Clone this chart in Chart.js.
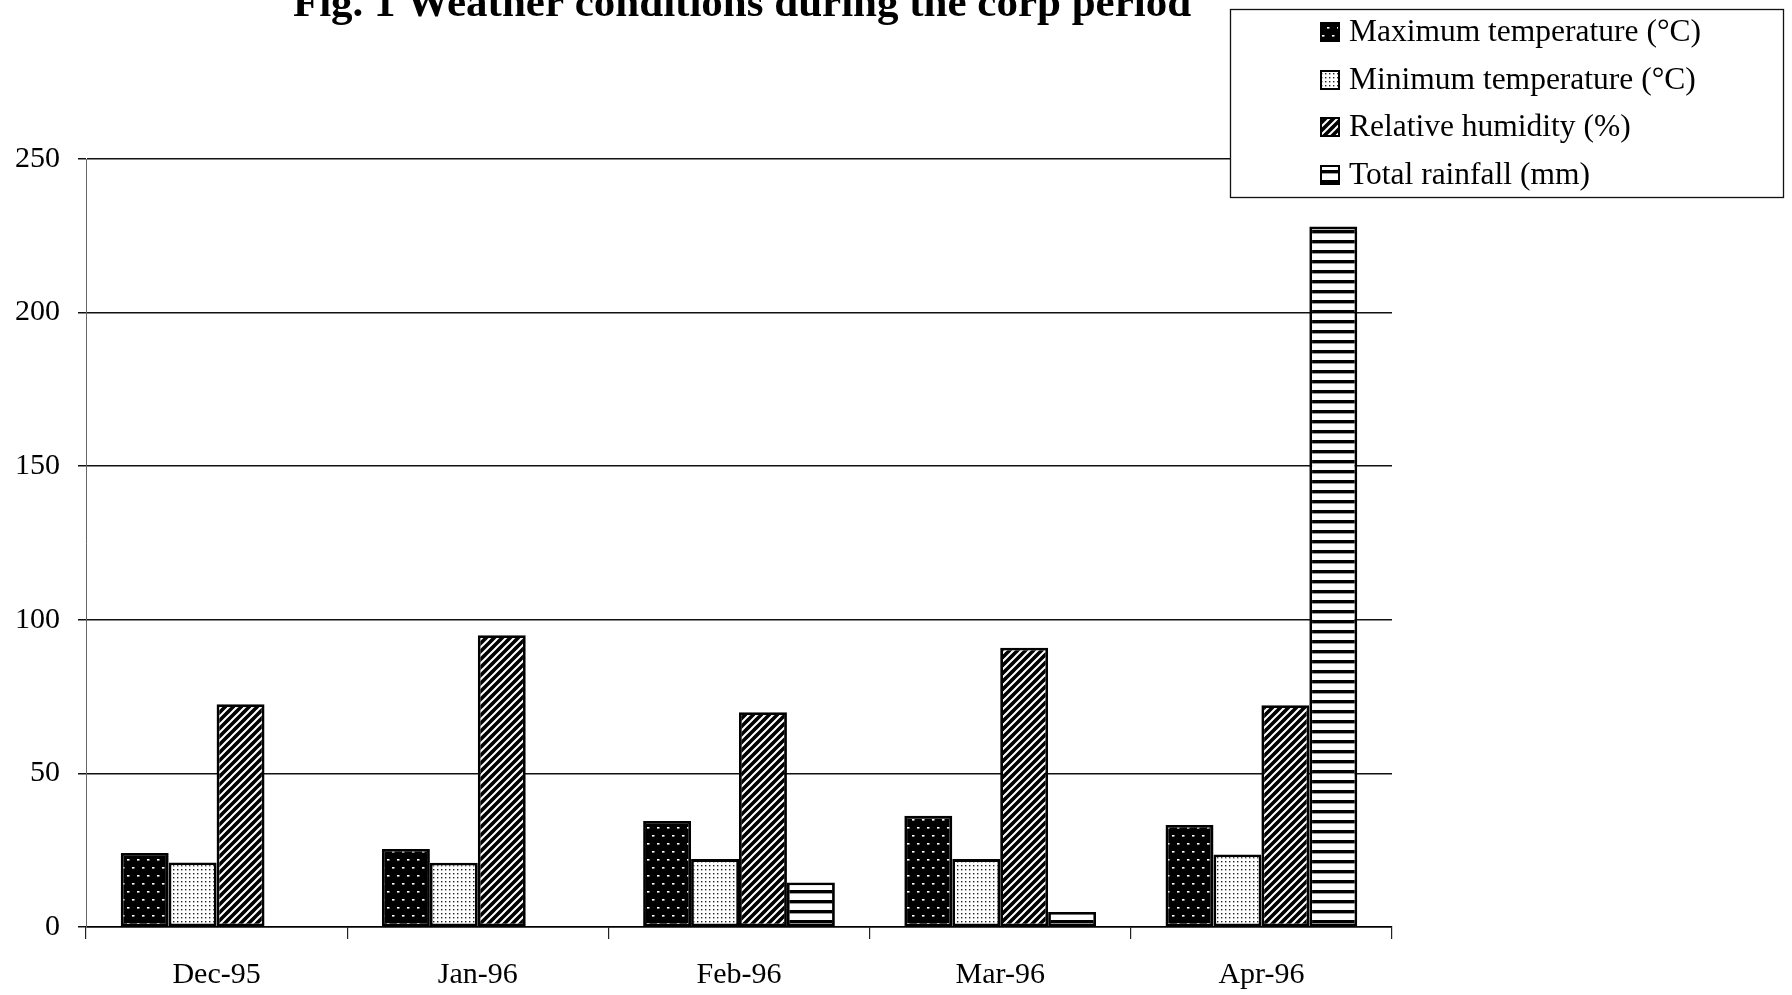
<!DOCTYPE html>
<html>
<head>
<meta charset="utf-8">
<script src="https://cdn.jsdelivr.net/npm/chart.js@4.4.1/dist/chart.umd.min.js"></script>
<style>
  html, body { margin: 0; padding: 0; background: #fff; }
  #wrap { width: 1792px; height: 995px; }
</style>
</head>
<body>
<div id="wrap"><canvas id="chart" width="1792" height="995"></canvas></div>
<script>
// Monthly weather readings for the crop season
const categories = ['Dec-95', 'Jan-96', 'Feb-96', 'Mar-96', 'Apr-96'];
const maxTemp  = [24.1, 25.4, 34.5, 36.2, 33.2];
const minTemp  = [21.0, 20.9, 22.1, 22.1, 23.6];
const humidity = [72.5, 95.0, 69.9, 90.9, 72.2];
const rainfall = [0, 0, 14.5, 4.9, 228];
const seriesNames = [
  'Maximum temperature (\u00B0C)',
  'Minimum temperature (\u00B0C)',
  'Relative humidity (%)',
  'Total rainfall (mm)'
];
const yTickValues = [0, 50, 100, 150, 200, 250];
const titleText = 'Fig. 1 Weather conditions during the corp period';

const FONT = '"Liberation Serif", "Times New Roman", serif';

// ---- fill patterns (black & white print style) ----
function tile(w, h, draw) {
  const c = document.createElement('canvas');
  c.width = w; c.height = h;
  const g = c.getContext('2d');
  draw(g, w, h);
  return c;
}
const ctxMain = document.getElementById('chart').getContext('2d');

// dark fill with white specks
const patMax = ctxMain.createPattern(tile(10, 16, (g, w, h) => {
  g.fillStyle = '#000'; g.fillRect(0, 0, w, h);
  g.fillStyle = '#fff';
  g.fillRect(2, 3, 2.5, 1.6);
  g.fillRect(7, 11, 2.5, 1.6);
}), 'repeat');

// light stipple
const patMin = ctxMain.createPattern(tile(4, 4, (g, w, h) => {
  g.fillStyle = '#fff'; g.fillRect(0, 0, w, h);
  g.fillStyle = '#222';
  g.fillRect(1, 1, 1.4, 1.4);
}), 'repeat');

// diagonal hatching
const patHum = ctxMain.createPattern(tile(8, 8, (g, w, h) => {
  g.fillStyle = '#000'; g.fillRect(0, 0, w, h);
  g.strokeStyle = '#fff'; g.lineWidth = 2.0;
  g.beginPath();
  g.moveTo(-2, 10); g.lineTo(10, -2);
  g.moveTo(-6, 6); g.lineTo(6, -6);
  g.moveTo(2, 14); g.lineTo(14, 2);
  g.stroke();
}), 'repeat');

// horizontal stripes
const patRain = ctxMain.createPattern(tile(10, 10, (g, w, h) => {
  g.fillStyle = '#fff'; g.fillRect(0, 0, w, h);
  g.fillStyle = '#000'; g.fillRect(0, 0, w, 3.4);
}), 'repeat');

const fills = [patMax, patMin, patHum, patRain];
const seriesValues = [maxTemp, minTemp, humidity, rainfall];

// ---- title drawn partly above the page edge ----
const titlePlugin = {
  id: 'topTitle',
  afterDraw(chart) {
    const c = chart.ctx;
    c.save();
    c.fillStyle = '#000';
    c.font = 'bold 43px ' + FONT;
    c.textAlign = 'center';
    c.textBaseline = 'alphabetic';
    c.fillText(titleText, 742, 16);
    c.restore();
  }
};

// ---- boxed legend at the top right ----
const boxLegend = {
  id: 'boxLegend',
  afterDraw(chart) {
    const c = chart.ctx;
    const box = { x: 1230, y: 9, w: 553, h: 188 };
    c.save();
    c.fillStyle = '#fff';
    c.fillRect(box.x, box.y, box.w, box.h);
    c.strokeStyle = '#111';
    c.lineWidth = 1.3;
    c.strokeRect(box.x + 0.5, box.y + 0.5, box.w, box.h);
    const rows = [32, 80, 127, 175];
    chart.data.datasets.forEach((ds, i) => {
      const cy = rows[i];
      c.fillStyle = ds.backgroundColor;
      c.fillRect(1320, cy - 10, 20, 20);
      c.strokeStyle = '#000';
      c.lineWidth = 2;
      c.strokeRect(1321, cy - 9, 18, 18);
      c.fillStyle = '#000';
      c.font = '31.5px ' + FONT;
      c.textAlign = 'left';
      c.textBaseline = 'middle';
      c.fillText(ds.label, 1349, cy + 1);
    });
    c.restore();
  }
};

new Chart(ctxMain, {
  type: 'bar',
  data: {
    labels: categories,
    datasets: seriesNames.map((name, i) => ({
      label: name,
      data: seriesValues[i],
      backgroundColor: fills[i],
      borderColor: '#000',
      borderWidth: 2.8,
      borderSkipped: false,
      categoryPercentage: 0.734,
      barPercentage: 1.0
    }))
  },
  options: {
    responsive: false,
    devicePixelRatio: 1,
    animation: false,
    layout: { padding: { top: 159, right: 400, left: 0, bottom: 0 } },
    plugins: {
      legend: { display: false },
      title: { display: false },
      tooltip: { enabled: false }
    },
    scales: {
      x: {
        afterFit(scale) { scale.height = 68; },
        grid: {
          drawOnChartArea: false,
          drawTicks: true,
          tickLength: 12,
          color: '#222',
          lineWidth: 1.2
        },
        border: { display: true, color: '#000', width: 1.5 },
        ticks: {
          color: '#000',
          padding: 18,
          font: { family: FONT, size: 30 }
        }
      },
      y: {
        min: 0,
        max: 250,
        afterFit(scale) { scale.width = 86; },
        afterBuildTicks(scale) {
          scale.ticks = yTickValues.map(v => ({ value: v }));
        },
        grid: {
          color: '#111',
          lineWidth: 1.5,
          tickLength: 8
        },
        border: { display: true, color: '#666', width: 1 },
        ticks: {
          color: '#000',
          padding: 18,
          font: { family: FONT, size: 30 }
        }
      }
    }
  },
  plugins: [titlePlugin, boxLegend]
});
</script>
</body>
</html>
